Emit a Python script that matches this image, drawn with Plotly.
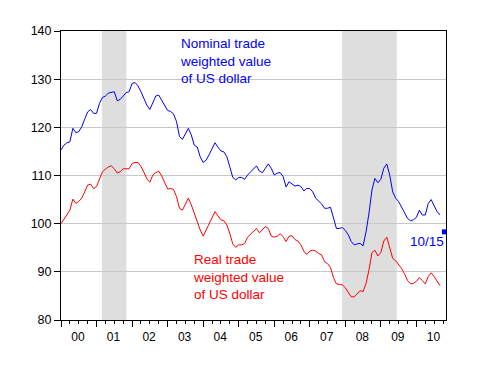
import plotly.graph_objects as go

# Monthly observations, Jan 2000 .. Sep 2010
start_year = 2000
nominal = [115.3, 116.3, 116.8, 117.0, 119.8, 118.9, 119.1, 120.1, 121.7, 123.2, 123.7, 122.9,
           122.9, 125.0, 126.2, 126.5, 127.1, 127.2, 127.4, 125.5, 125.8, 126.5, 127.2, 127.4,
           129.1, 129.3, 128.6, 127.4, 126.0, 124.6, 123.7, 125.3, 126.5, 126.7, 125.7, 124.8,
           123.5, 123.3, 122.8, 121.2, 118.1, 117.5, 118.8, 119.8, 118.4, 116.3, 115.9, 113.9,
           112.7, 113.2, 114.3, 115.6, 116.8, 115.9, 115.1, 114.9, 113.9, 111.8, 109.6, 109.1,
           109.6, 109.6, 109.2, 110.1, 110.8, 111.5, 112.0, 110.9, 110.6, 111.5, 112.4, 111.5,
           110.1, 110.5, 110.6, 109.8, 107.6, 108.7, 108.2, 107.8, 108.0, 107.7, 106.8, 107.3,
           107.3, 106.6, 105.3, 104.8, 104.1, 103.2, 103.2, 103.4, 101.1, 99.0, 99.0, 99.2,
           98.6, 97.7, 96.3, 95.6, 95.8, 95.9, 95.4, 98.3, 102.2, 107.0, 109.4, 108.5,
           109.2, 111.5, 112.4, 110.1, 106.6, 105.3, 104.6, 103.5, 102.5, 101.1, 100.6, 100.8,
           101.3, 102.8, 101.8, 101.8, 104.2, 105.0, 103.7, 102.5, 101.8]
real = [100.0, 101.0, 101.8, 102.8, 105.1, 104.2, 104.6, 105.3, 106.6, 108.0, 108.2, 107.3,
        107.7, 109.1, 110.8, 111.3, 111.8, 112.0, 111.4, 110.5, 110.8, 111.4, 111.4, 111.4,
        112.5, 112.7, 112.7, 111.9, 110.7, 109.3, 108.6, 110.1, 110.6, 110.9, 109.9, 108.4,
        107.2, 107.3, 107.1, 105.6, 103.2, 102.8, 103.9, 105.3, 103.9, 102.0, 100.4, 98.7,
        97.4, 98.7, 100.1, 101.1, 102.5, 101.6, 100.8, 100.6, 99.7, 98.0, 95.8, 95.1,
        95.6, 95.6, 95.9, 97.2, 97.8, 98.5, 99.0, 98.1, 98.8, 99.4, 99.0, 97.4,
        97.2, 97.4, 97.9, 97.3, 96.3, 97.4, 97.5, 96.7, 96.4, 95.6, 94.3, 93.6,
        94.3, 94.5, 94.3, 93.8, 93.5, 92.1, 91.7, 90.9, 88.8, 87.5, 87.4, 87.3,
        86.7, 85.6, 84.8, 84.8, 85.5, 86.1, 85.9, 87.6, 90.4, 94.0, 94.5, 93.3,
        94.0, 96.4, 97.2, 95.2, 92.8, 92.3, 91.6, 90.7, 89.6, 88.2, 87.5, 87.6,
        88.0, 88.8, 88.2, 87.5, 89.0, 89.8, 89.0, 88.0, 87.1]
months = [start_year + i / 12 for i in range(len(nominal))]

# Latest daily reading (Oct 15, 2010)
latest_x = [2010.788]
latest_y = [98.3]
latest_label = "10/15"

# NBER recessions (decimal years)
rec_start = [2001.15, 2007.91]
rec_end = [2001.84, 2009.45]

year_ticks = list(range(2000, 2011))
year_labels = ["00", "01", "02", "03", "04", "05", "06", "07", "08", "09", "10"]
y_ticks = [80, 90, 100, 110, 120, 130, 140]

FONT = "Arial, Liberation Sans, sans-serif"
BLUE = "#0000FF"
RED = "#FF0000"

fig = go.Figure()
fig.add_trace(go.Scatter(x=months, y=nominal, mode="lines",
                         line=dict(color=BLUE, width=1), showlegend=False))
fig.add_trace(go.Scatter(x=months, y=real, mode="lines",
                         line=dict(color=RED, width=1), showlegend=False))
fig.add_trace(go.Scatter(x=latest_x, y=latest_y, mode="markers",
                         marker=dict(symbol="square", size=5, color=BLUE),
                         showlegend=False, cliponaxis=True))

for s, e in zip(rec_start, rec_end):
    fig.add_shape(type="rect", xref="x", yref="paper", x0=s, x1=e, y0=0, y1=1,
                  fillcolor="#dedede", line=dict(width=0), layer="below")

fig.add_annotation(x=2003.28, y=133.8, xref="x", yref="y",
                   text="Nominal trade<br>weighted value<br>of US dollar",
                   showarrow=False, xanchor="left", yanchor="middle", align="left",
                   font=dict(family=FONT, size=13.5, color=BLUE))
fig.add_annotation(x=2003.67, y=89.0, xref="x", yref="y",
                   text="Real trade<br>weighted value<br>of US dollar",
                   showarrow=False, xanchor="left", yanchor="middle", align="left",
                   font=dict(family=FONT, size=13.5, color=RED))
fig.add_annotation(x=2010.83, y=96.25, xref="x", yref="y",
                   text=latest_label,
                   showarrow=False, xanchor="right", yanchor="middle",
                   font=dict(family=FONT, size=13.5, color=BLUE))

fig.update_layout(
    width=473, height=361,
    margin=dict(l=53, r=35, t=23, b=49),
    paper_bgcolor="white", plot_bgcolor="white",
    font=dict(family=FONT, size=12, color="black"),
    xaxis=dict(range=[2000, 2000 + 130 / 12], tickmode="array",
               tickvals=year_ticks, ticktext=year_labels,
               ticks="outside", ticklen=6, tickwidth=1, tickcolor="black",
               ticklabelshift=17, showgrid=False, zeroline=False,
               showline=True, linecolor="black", linewidth=1, mirror=True,
               tickfont=dict(family=FONT, size=12, color="black"),
               minor=dict(dtick=0.25, tick0=2000, ticks="outside", ticklen=3,
                          tickcolor="black", showgrid=False)),
    yaxis=dict(range=[80, 140], tickmode="array", tickvals=y_ticks,
               ticks="outside", ticklen=6, tickwidth=1, tickcolor="black",
               showgrid=True, gridcolor="#c8c8c8", gridwidth=1, zeroline=False,
               showline=True, linecolor="black", linewidth=1, mirror=True,
               tickfont=dict(family=FONT, size=12.5, color="black")),
)

fig.write_html("out.html")
